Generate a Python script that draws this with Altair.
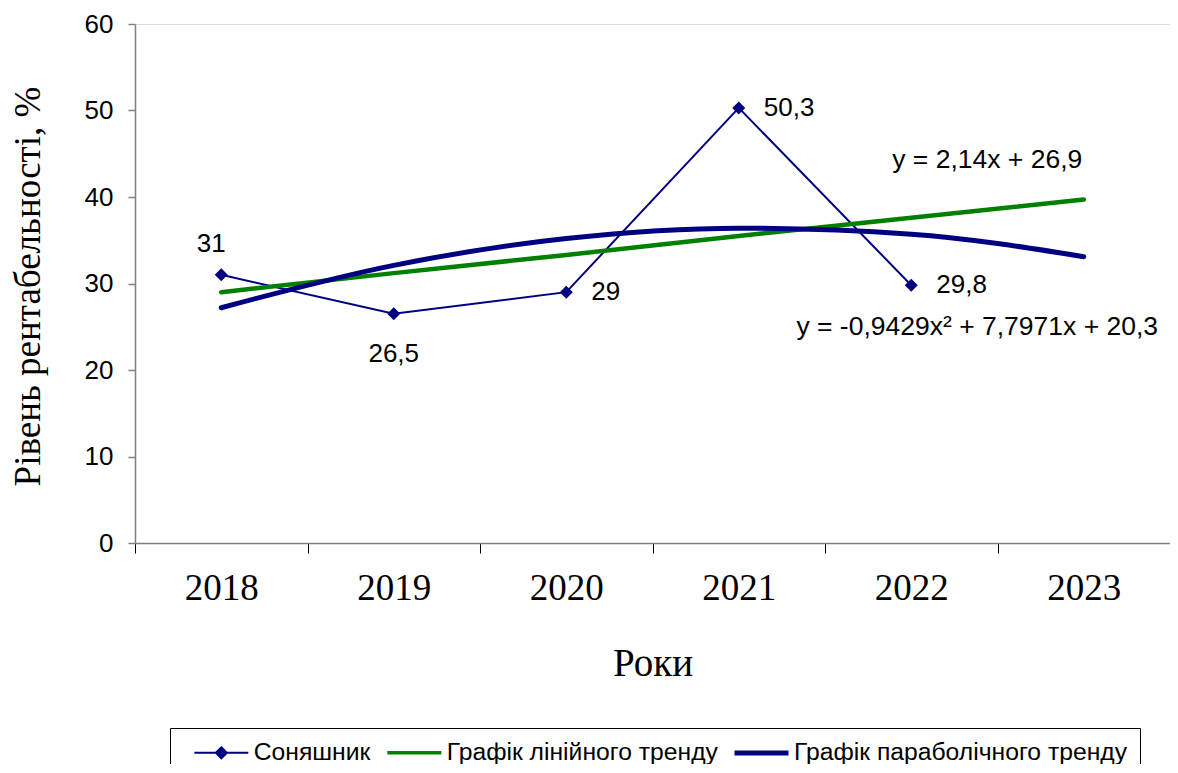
import altair as alt
import pandas as pd

years = ["2018", "2019", "2020", "2021", "2022", "2023"]
sunflower = [31.0, 26.5, 29.0, 50.3, 29.8]
sunflower_labels = ["31", "26,5", "29", "50,3", "29,8"]
linear_trend = [29.0, 31.2, 33.3, 35.5, 37.6, 39.7]
parabolic_trend = [27.2, 32.1, 35.2, 36.4, 35.7, 33.1]
series_names = ["Соняшник", "Графік лінійного тренду", "Графік параболічного тренду"]
series_colors = ["#000080", "#008000", "#000080"]
series_widths = [2, 4.5, 5]
eq_texts = ["y = 2,14x + 26,9", "y = -0,9429x² + 7,7971x + 20,3"]
eq_years = ["2022", "2022"]
eq_values = [44.3, 25.0]

sun_df = pd.DataFrame({"year": years[:5], "value": sunflower, "label": sunflower_labels})
lin_df = pd.DataFrame({"year": years, "value": linear_trend})
par_df = pd.DataFrame({"year": years, "value": parabolic_trend})
eq_df = pd.DataFrame({"year": eq_years, "value": eq_values, "text": eq_texts})
leg_df = pd.DataFrame({"series": series_names, "year": [years[0]] * 3, "value": [None] * 3})

SANS = "Liberation Sans"
SERIF = "Liberation Serif"

x_enc = alt.X(
    "year:N",
    bandPosition=0.5,
    sort=years,
    scale=alt.Scale(type="band", domain=years, paddingInner=0, paddingOuter=0),
    axis=alt.Axis(
        title="Роки",
        titleFont=SERIF, titleFontSize=39, titleFontWeight="normal", titleColor="#000",
        titlePadding=38,
        labelFont=SERIF, labelFontSize=37, labelColor="#000", labelPadding=17,
        labelAngle=0,
        tickBand="extent", tickSize=10, tickColor="#000", tickWidth=1,
        domainColor="#808080", domainWidth=1.5,
        grid=False,
    ),
)
y_enc = alt.Y(
    "value:Q",
    scale=alt.Scale(domain=[0, 60], nice=False),
    axis=alt.Axis(
        title="Рівень рентабельності, %",
        titleFont=SERIF, titleFontSize=37, titleFontWeight="normal", titleColor="#000",
        titlePadding=37, titleY=262,
        labelFont=SANS, labelFontSize=26, labelColor="#000", labelPadding=15,
        values=[0, 10, 20, 30, 40, 50, 60],
        tickSize=7, tickColor="#808080", tickWidth=1.5,
        domainColor="#808080", domainWidth=1.5,
        grid=False,
    ),
)

xb = alt.X("year:N", bandPosition=0.5)

sun_line = alt.Chart(sun_df).mark_line(color=series_colors[0], strokeWidth=series_widths[0]).encode(x=x_enc, y=y_enc)
lin_line = alt.Chart(lin_df).mark_line(color=series_colors[1], strokeWidth=series_widths[1], strokeCap="round").encode(x=xb, y="value:Q")
par_line = alt.Chart(par_df).mark_line(color=series_colors[2], strokeWidth=series_widths[2], strokeCap="round", interpolate="monotone").encode(x=xb, y="value:Q")

points = alt.Chart(sun_df).mark_point(shape="diamond", filled=True, size=170, color="#000080", opacity=1).encode(
    x=xb, y="value:Q",
)

legend = alt.Legend(
    title=None,
    orient="none",
    legendX=35,
    legendY=704,
    direction="horizontal",
    strokeColor="#000",
    fillColor="#fff",
    padding=12,
    labelFont=SANS,
    labelFontSize=24.7,
    labelColor="#000",
    labelLimit=600,
    labelOffset=20,
    columnPadding=4,
    symbolSize=400,
    symbolOffset=27,
    symbolOpacity=1,
)
shape_paths = ["M-2.7,0L2.7,0M0,-0.55L0.55,0L0,0.55L-0.55,0Z", "M-2.7,0L2.7,0", "M-2.7,0L2.7,0"]
leg_fills = ["#000080", "transparent", "transparent"]
leg_widths = [2, 5, 5]

leg_layer = alt.Chart(leg_df).mark_point(filled=False, size=400, opacity=1).encode(
    x=xb,
    y="value:Q",
    color=alt.Color("series:N", scale=alt.Scale(domain=series_names, range=series_colors), legend=legend),
    fill=alt.Fill("series:N", scale=alt.Scale(domain=series_names, range=leg_fills), legend=legend),
    shape=alt.Shape("series:N", scale=alt.Scale(domain=series_names, range=shape_paths), legend=legend),
    strokeWidth=alt.StrokeWidth("series:N", scale=alt.Scale(domain=series_names, range=leg_widths), legend=legend),
)

def label_layer(sel, **kw):
    return alt.Chart(sun_df).transform_filter(
        alt.FieldOneOfPredicate(field="year", oneOf=sel)
    ).mark_text(font=SANS, fontSize=26, color="#000", **kw).encode(
        x=xb, y="value:Q", text="label:N"
    )

lab_a = label_layer(["2018"], dx=-10, dy=-31)
lab_b = label_layer(["2019"], dy=40)
lab_c = label_layer(["2020", "2021", "2022"], dx=25, align="left")

eq1 = alt.Chart(eq_df.iloc[[0]]).mark_text(font=SANS, fontSize=26.5, color="#000", dx=76).encode(
    x=xb, y="value:Q", text="text:N"
)
eq2 = alt.Chart(eq_df.iloc[[1]]).mark_text(font=SANS, fontSize=26.5, color="#000", dx=66).encode(
    x=xb, y="value:Q", text="text:N"
)

chart = alt.layer(sun_line, lin_line, par_line, points, leg_layer, lab_a, lab_b, lab_c, eq1, eq2).properties(
    width=1035,
    height=519,
    autosize=alt.AutoSizeParams(type="none"),
    padding={"left": 127, "top": 16, "right": 0, "bottom": 221},
).configure_view(stroke=None).configure(background="#ffffff")

chart.save("out.html", embed_options={"renderer": "svg", "actions": False})
